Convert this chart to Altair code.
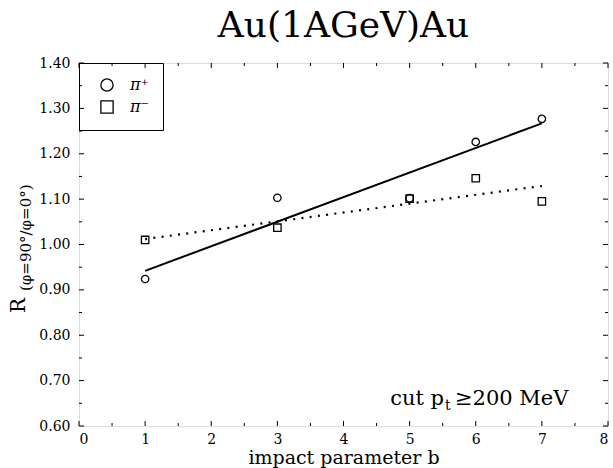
import altair as alt
import pandas as pd

# ---- data ----
impact_b = [1, 3, 5, 6, 7]
r_pi_plus = [0.924, 1.103, 1.102, 1.226, 1.277]
r_pi_minus = [1.010, 1.037, 1.101, 1.146, 1.095]

fit_b = [1, 7]
fit_pi_plus = [0.942, 1.267]
fit_pi_minus = [1.012, 1.129]

series_names = ["π⁺", "π⁻"]

x_major = [0, 1, 2, 3, 4, 5, 6, 7, 8]
x_minor = [0.5, 1.5, 2.5, 3.5, 4.5, 5.5, 6.5, 7.5]
y_major = [0.60, 0.70, 0.80, 0.90, 1.00, 1.10, 1.20, 1.30, 1.40]
y_minor = [0.65, 0.75, 0.85, 0.95, 1.05, 1.15, 1.25, 1.35]

W, H = 529, 363
FONT = "DejaVu Serif"

pts = pd.DataFrame({
    "b": impact_b + impact_b,
    "R": r_pi_plus + r_pi_minus,
    "s": [series_names[0]] * len(impact_b) + [series_names[1]] * len(impact_b),
})
fit_plus = pd.DataFrame({"b": fit_b, "R": fit_pi_plus})
fit_minus = pd.DataFrame({"b": fit_b, "R": fit_pi_minus})

xscale = alt.Scale(domain=[0, 8], nice=False, zero=False)
yscale = alt.Scale(domain=[0.6, 1.4], nice=False, zero=False)
xaxis = alt.Axis(values=x_major, format="d", ticks=False, domain=False, grid=False,
                 labelPadding=6, title="impact parameter b", titlePadding=2,
                 labelFontSize=14, titleFontSize=19, titleFontWeight="normal",
                 labelFont=FONT, titleFont=FONT, labelColor="black", titleColor="black")
yaxis = alt.Axis(values=y_major, format=".2f", ticks=False, domain=False, grid=False,
                 labelPadding=9, title=None, labelFontSize=14, labelFont=FONT,
                 labelColor="black")

X = lambda f: alt.X(f, type="quantitative", scale=xscale, axis=xaxis)
Y = lambda f: alt.Y(f, type="quantitative", scale=yscale, axis=yaxis)

points = alt.Chart(pts).mark_point(filled=False, size=55, strokeWidth=1.3, opacity=1).encode(
    x=X("b"), y=Y("R"),
    color=alt.value("black"),
    shape=alt.Shape("s:N", scale=alt.Scale(domain=series_names, range=["circle", "square"]),
                    legend=alt.Legend(title=None, orient="top-left", offset=0, padding=14,
                                      strokeColor="black", symbolSize=150, symbolStrokeWidth=1.3,
                                      symbolStrokeColor="black", symbolOffset=6,
                                      labelFontSize=16, labelFont=FONT, labelFontStyle="italic",
                                      labelOffset=15, rowPadding=4, labelColor="black")),
)

line_plus = alt.Chart(fit_plus).mark_line(color="black", strokeWidth=2).encode(x=X("b"), y=Y("R"))
line_minus = alt.Chart(fit_minus).mark_line(color="black", strokeWidth=2.2, strokeDash=[2, 6.3]).encode(
    x=X("b"), y=Y("R"))


def tick_layer(vals, along, start, end):
    df = pd.DataFrame({"v": vals})
    if along == "x":
        enc = dict(x=X("v"), y=alt.value(start), y2=alt.value(end))
    else:
        enc = dict(y=Y("v"), x=alt.value(start), x2=alt.value(end))
    return alt.Chart(df).mark_rule(color="black", strokeWidth=1).encode(**enc)


ticks = [
    tick_layer(x_major, "x", H, H - 5), tick_layer(x_minor, "x", H, H - 3),
    tick_layer(x_major, "x", 0, 5), tick_layer(x_minor, "x", 0, 3),
    tick_layer(y_major, "y", 0, 5), tick_layer(y_minor, "y", 0, 3),
    tick_layer(y_major, "y", W, W - 5), tick_layer(y_minor, "y", W, W - 3),
]

one = pd.DataFrame({"a": [0]})


def label(txt, x, y, size, align="left", angle=0, baseline="alphabetic"):
    return alt.Chart(one).mark_text(font=FONT, fontSize=size, align=align, baseline=baseline,
                                    angle=angle, color="black").encode(
        x=alt.value(x), y=alt.value(y), text=alt.value(txt))


texts = [
    label("Au(1AGeV)Au", W / 2, -26, 36, align="center"),
    label("cut p", 365, 342, 21, align="right"),
    label("t", 366, 347, 14),
    label("≥200 MeV", 376, 342, 21),
    label("R", -54, 250, 20, angle=270),
    label("(φ=90°/φ=0°)", -48, 228, 15, angle=270),
]

chart = alt.layer(line_plus, line_minus, points, *ticks, *texts).properties(
    width=W, height=H,
    padding={"left": 79, "top": 63, "right": 5, "bottom": 42},
    autosize=alt.AutoSizeParams(type="none"),
).configure_view(stroke="black", strokeWidth=1.2).configure(background="white")

chart.save("out.html", embed_options={"renderer": "svg", "actions": False})
